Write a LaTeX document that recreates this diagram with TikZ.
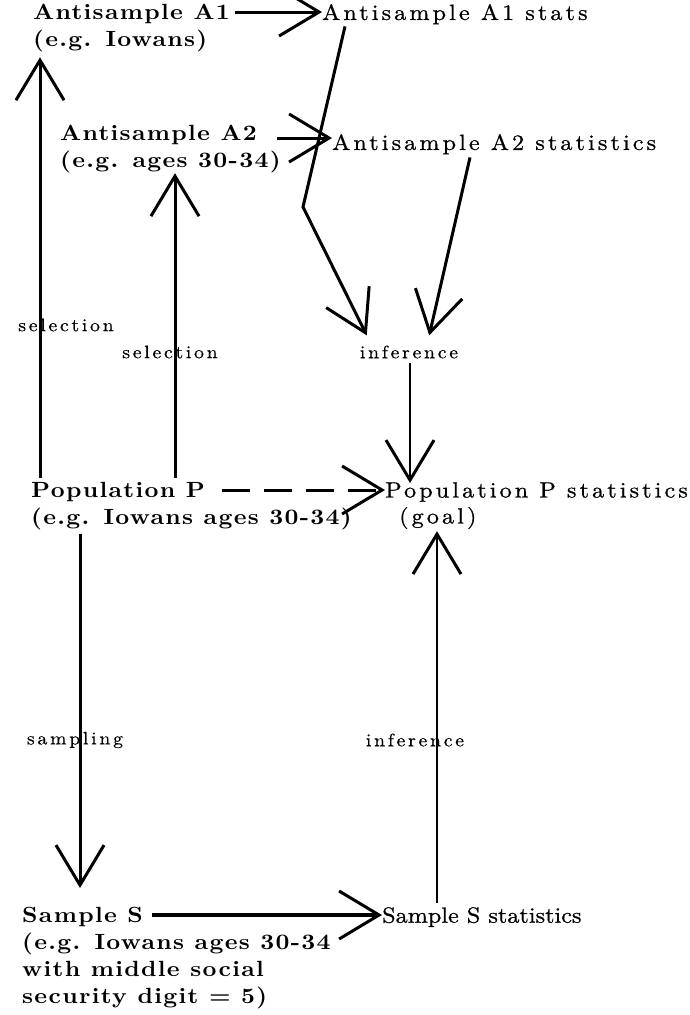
\documentclass[tikz,border=0pt]{standalone}
\usepackage{fontspec}
\usetikzlibrary{arrows.meta,calc}
\newfontfamily\nfam{lmroman10-regular.otf}[BoldFont=lmroman10-bold.otf,FakeStretch=1.1,LetterSpace=14,FakeBold=0.8]
\newfontfamily\nfamt{lmroman10-regular.otf}[BoldFont=lmroman10-bold.otf,FakeStretch=1.1,LetterSpace=0,FakeBold=0.8]
\newfontfamily\bfam{lmroman10-regular.otf}[BoldFont=lmroman10-bold.otf,FakeStretch=1.1,LetterSpace=6]
\newfontfamily\lfam{lmroman10-regular.otf}[FakeStretch=1.1,LetterSpace=15,FakeBold=0.5]
\tikzset{
  bt/.style={font=\bfam\bfseries\fontsize{22}{27}\selectfont, inner sep=0pt, align=left, anchor=north west},
  nt/.style={font=\nfam\fontsize{22}{26}\selectfont, inner sep=0pt, align=left, anchor=north west},
  ntt/.style={nt, font=\nfamt\fontsize{22}{26}\selectfont},
  lb/.style={font=\lfam\fontsize{18}{20}\selectfont, inner sep=0pt},
  barb/.style={-{Straight Barb[length=40pt,width=48pt,line width=3pt]}},
  arr/.style={barb, line width=3pt},
  arrthin/.style={barb, line width=1.3pt},
  arrmid/.style={barb, line width=2.2pt},
  arrthick/.style={barb, line width=4pt},
}
\begin{document}
\begin{tikzpicture}[x=1pt,y=-1pt]
\useasboundingbox (0,0) rectangle (690,1015);
% nodes
\node[bt] (A1) at (33,4) {Antisample A1\\(e.g. Iowans)};
\node[nt] (A1S) at (322,4) {Antisample A1 stats};
\node[bt] (A2) at (60,125) {Antisample A2\\(e.g. ages 30-34)};
\node[nt] (A2S) at (332,134) {Antisample A2 statistics};
\node[lb] (inf1) at (409,352) {inference};
\node[bt] (P) at (31,482) {Population P\\(e.g. Iowans ages 30-34)};
\node[nt] (PS) at (385,482) {Population P statistics\\\hspace*{14pt}(goal)};
\node[lb] (sel1) at (66,325) {selection};
\node[lb] (sel2) at (170,352) {selection};
\node[lb] (samp) at (75,740) {sampling};
\node[lb] (inf2) at (415,740) {inference};
\node[bt] (S) at (22,907) {Sample S\\(e.g. Iowans ages 30-34\\with middle social\\security digit = 5)};
\node[ntt] (SS) at (382,907) {Sample S statistics};
\coordinate (bend) at (303,207);
% connectors
\draw[arr] ($(A1.north west)+(202,8)$) coordinate (a) -- (a -| A1S.west);
\draw[arr] ($(A2.north west)+(217,13)$) coordinate (b) -- (b -| A2S.west);
\draw[arr] ($(A1S.south west)+(23,2)$) -- (bend) -- ($(inf1.north west)+(7,-10)$);
\draw[arr] ($(A2S.south west)+(138,3)$) -- ($(inf1.north east)+(-29,-10)$);
\draw[arrthin] ($(inf1.south)+(1,4)$) coordinate (c) -- ($(c |- PS.north)+(0,1)$);
\draw[arr, dash pattern=on 28pt off 14pt] ($(P.north west)+(191,8)$) coordinate (d) -- (d -| PS.west);
\draw[arr] ($(P.north west)+(9,-4)$) coordinate (e) -- ($(e |- A1.south)+(0,5)$);
\draw[arr] ($(P.north west)+(144,-4)$) coordinate (f) -- (f |- A2.south);
\draw[arr] ($(P.south west)+(49,4)$) coordinate (g) -- ($(g |- S.north)+(0,-19)$);
\draw[arrmid] ($(SS.north west)+(55,-4)$) coordinate (h) -- ($(h |- PS.south)+(0,2)$);
\draw[arrthick] ($(S.north west)+(130,8)$) coordinate (k) -- (k -| SS.west);
\end{tikzpicture}
\end{document}
